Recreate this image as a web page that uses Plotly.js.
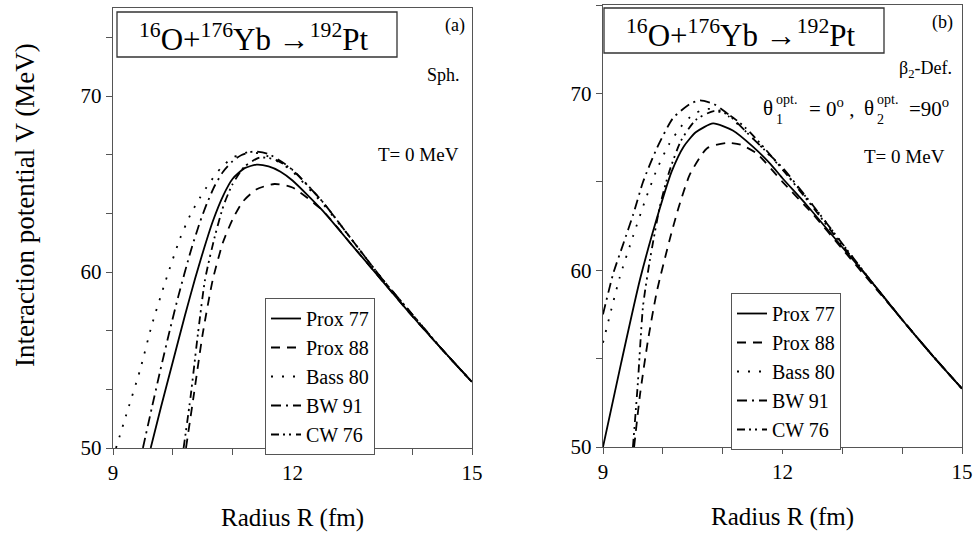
<!DOCTYPE html>
<html>
<head>
<meta charset="utf-8">
<script src="https://cdn.plot.ly/plotly-3.0.1.min.js"></script>
<style>html,body{margin:0;padding:0;background:#fff;}#chart{width:976px;height:535px;}</style>
</head>
<body>
<div id="chart"></div>
<script>
// ---------- Data ----------
const models = ["Prox 77", "Prox 88", "Bass 80", "BW 91", "CW 76"];

// Panel (a): spherical, T = 0 MeV
const R_a_prox77 = [9.63, 9.8, 10.0, 10.2, 10.37, 10.5, 10.67, 10.85, 11.0, 11.2, 11.4, 11.6, 11.8, 12.0, 12.5, 13.0, 13.5, 14.0, 14.5, 15.0];
const V_a_prox77 = [50.0, 52.3, 54.9, 57.5, 59.6, 61.1, 62.9, 64.4, 65.3, 65.9, 66.1, 66.0, 65.7, 65.2, 63.5, 61.5, 59.5, 57.5, 55.6, 53.75];
const R_a_prox88 = [10.22, 10.35, 10.5, 10.67, 10.84, 11.0, 11.17, 11.4, 11.7, 12.0, 12.5, 13.0, 13.5, 14.0, 14.5, 15.0];
const V_a_prox88 = [50.0, 53.0, 56.5, 59.6, 61.7, 63.0, 64.0, 64.7, 65.0, 64.8, 63.5, 61.5, 59.5, 57.5, 55.6, 53.75];
const R_a_bass80 = [9.05, 9.25, 9.45, 9.65, 9.87, 10.12, 10.3, 10.45, 10.6, 10.8, 11.0, 11.25, 11.5, 11.8, 12.0, 12.5, 13.0, 13.5, 14.0, 14.5, 15.0];
const V_a_bass80 = [50.0, 52.2, 54.4, 57.0, 59.4, 61.9, 63.3, 64.2, 65.0, 65.9, 66.5, 66.8, 66.7, 66.2, 65.7, 63.9, 61.8, 59.6, 57.6, 55.6, 53.75];
const R_a_bw91 = [9.5, 9.65, 9.79, 9.95, 10.09, 10.3, 10.45, 10.57, 10.7, 10.84, 11.0, 11.15, 11.35, 11.6, 11.85, 12.0, 12.5, 13.0, 13.5, 14.0, 14.5, 15.0];
const V_a_bw91 = [50.0, 52.3, 54.4, 56.7, 58.6, 61.2, 62.8, 63.9, 64.9, 65.7, 66.3, 66.65, 66.85, 66.7, 66.2, 65.8, 64.0, 61.8, 59.6, 57.6, 55.6, 53.75];
const R_a_cw76 = [10.18, 10.3, 10.42, 10.54, 10.7, 10.85, 11.0, 11.2, 11.45, 11.7, 12.0, 12.5, 13.0, 13.5, 14.0, 14.5, 15.0];
const V_a_cw76 = [50.0, 53.0, 56.5, 59.6, 62.0, 63.8, 65.0, 66.0, 66.5, 66.4, 65.8, 64.0, 61.8, 59.6, 57.6, 55.6, 53.75];

// Panel (b): beta2-deformed, optimum orientations
const R_b_prox77 = [9.0, 9.3, 9.62, 9.95, 10.15, 10.35, 10.55, 10.84, 11.17, 11.5, 11.8, 12.0, 12.4, 13.0, 13.5, 14.0, 14.5, 15.0];
const V_b_prox77 = [50.0, 54.7, 59.5, 63.5, 65.6, 67.0, 67.8, 68.3, 67.9, 67.0, 66.0, 65.2, 63.7, 61.3, 59.3, 57.2, 55.2, 53.3];
const R_b_prox88 = [9.52, 9.62, 9.75, 9.9, 10.12, 10.26, 10.45, 10.74, 11.07, 11.3, 11.57, 12.0, 12.5, 13.0, 13.5, 14.0, 14.5, 15.0];
const V_b_prox88 = [50.0, 53.0, 56.0, 58.8, 61.8, 63.5, 65.4, 66.9, 67.2, 67.1, 66.6, 65.0, 63.2, 61.2, 59.2, 57.2, 55.2, 53.3];
const R_b_bass80 = [9.0, 9.28, 9.5, 9.7, 9.9, 10.1, 10.3, 10.5, 10.7, 10.9, 11.1, 11.4, 11.7, 12.0, 12.5, 13.0, 13.5, 14.0, 14.5, 15.0];
const V_b_bass80 = [55.9, 59.6, 61.9, 63.9, 65.7, 67.1, 68.1, 68.8, 69.1, 69.1, 68.7, 67.8, 66.8, 65.7, 63.7, 61.5, 59.3, 57.2, 55.2, 53.3];
const R_b_bw91 = [9.0, 9.17, 9.34, 9.5, 9.67, 9.9, 10.17, 10.45, 10.62, 10.85, 11.1, 11.4, 11.7, 12.0, 12.5, 13.0, 13.5, 14.0, 14.5, 15.0];
const V_b_bw91 = [57.5, 59.8, 61.5, 63.1, 65.0, 66.9, 68.6, 69.4, 69.6, 69.4, 68.8, 67.8, 66.8, 65.8, 63.7, 61.5, 59.3, 57.2, 55.2, 53.3];
const R_b_cw76 = [9.5, 9.58, 9.67, 9.78, 9.95, 10.1, 10.3, 10.55, 10.85, 11.1, 11.4, 11.7, 12.0, 12.5, 13.0, 13.5, 14.0, 14.5, 15.0];
const V_b_cw76 = [50.0, 53.5, 58.0, 60.5, 63.6, 65.5, 67.3, 68.5, 69.0, 68.8, 68.0, 66.9, 65.7, 63.6, 61.4, 59.3, 57.2, 55.2, 53.3];

// ---------- Styles ----------
const FONT = "'Liberation Serif', 'Times New Roman', Times, serif";
const dashStyles = ["solid", "9px,7px", "2px,9px", "10px,5px,2px,5px", "8px,4px,2px,4px,2px,5px"];

const panelA = [[R_a_prox77, V_a_prox77], [R_a_prox88, V_a_prox88], [R_a_bass80, V_a_bass80], [R_a_bw91, V_a_bw91], [R_a_cw76, V_a_cw76]];
const panelB = [[R_b_prox77, V_b_prox77], [R_b_prox88, V_b_prox88], [R_b_bass80, V_b_bass80], [R_b_bw91, V_b_bw91], [R_b_cw76, V_b_cw76]];

const traces = [];
panelA.forEach((d, i) => traces.push({
  x: d[0], y: d[1], name: models[i], type: "scatter", mode: "lines",
  xaxis: "x", yaxis: "y", legend: "legend",
  line: {color: "#000", width: 1.8, dash: dashStyles[i], shape: "spline", smoothing: 0.6}
}));
panelB.forEach((d, i) => traces.push({
  x: d[0], y: d[1], name: models[i], type: "scatter", mode: "lines",
  xaxis: "x2", yaxis: "y2", legend: "legend2",
  line: {color: "#000", width: 1.8, dash: dashStyles[i], shape: "spline", smoothing: 0.6}
}));

const W = 976, H = 535;
const px = v => v / W;
const py = v => 1 - v / H;

function xax(domain) {
  return {
    domain: domain, range: [9, 15], tick0: 0, dtick: 3,
    ticks: "outside", ticklen: 6, tickwidth: 1, tickcolor: "#555",
    minor: {dtick: 1, tick0: 0, ticks: "outside", ticklen: 6, tickcolor: "#555", showgrid: false},
    showline: true, mirror: true, linecolor: "#555", linewidth: 1.4,
    showgrid: false, zeroline: false, automargin: false,
    tickfont: {family: FONT, size: 21, color: "#000"},
    title: {text: "Radius R (fm)", font: {family: FONT, size: 25, color: "#000"}, standoff: 24}
  };
}
function yax(domain, minorStep, anchor) {
  return {
    domain: domain, range: [50, 75], tick0: 50, dtick: 10, anchor: anchor,
    ticks: "outside", ticklen: 6, tickwidth: 1, tickcolor: "#555",
    minor: {dtick: minorStep, tick0: 50, ticks: "outside", ticklen: 6, tickcolor: "#555", showgrid: false},
    showline: true, mirror: true, linecolor: "#555", linewidth: 1.4,
    showgrid: false, zeroline: false, automargin: false,
    tickfont: {family: FONT, size: 21, color: "#000"}
  };
}

const txt = (text, x, y, size, xanchor) => ({
  text: text, xref: "paper", yref: "paper", x: px(x), y: py(y),
  xanchor: xanchor || "center", yanchor: "middle", showarrow: false,
  font: {family: FONT, size: size, color: "#000"}
});

const reaction = "<sup>16</sup>O+<sup>176</sup>Yb →<sup>192</sup>Pt";

const layout = {
  width: W, height: H,
  margin: {l: 0, r: 0, t: 0, b: 0},
  paper_bgcolor: "#fff", plot_bgcolor: "#fff",
  font: {family: FONT, color: "#000"},
  xaxis: Object.assign(xax([px(113), px(472)]), {anchor: "y"}),
  yaxis: yax([py(448), py(8)], 10 / 3, "x"),
  xaxis2: Object.assign(xax([px(603), px(962)]), {anchor: "y2"}),
  yaxis2: yax([py(447), py(5)], 5, "x2"),
  legend: {
    x: px(265), y: py(298), xanchor: "left", yanchor: "top",
    bgcolor: "#fff", bordercolor: "#555", borderwidth: 1,
    font: {family: FONT, size: 20, color: "#000"}, tracegroupgap: 0, itemwidth: 30
  },
  legend2: {
    x: px(731), y: py(293), xanchor: "left", yanchor: "top",
    bgcolor: "#fff", bordercolor: "#555", borderwidth: 1,
    font: {family: FONT, size: 20, color: "#000"}, tracegroupgap: 0, itemwidth: 30
  },
  shapes: [
    {type: "rect", xref: "paper", yref: "paper", x0: px(117), x1: px(397), y0: py(57), y1: py(12), line: {color: "#333", width: 1.3}, fillcolor: "rgba(0,0,0,0)"},
    {type: "rect", xref: "paper", yref: "paper", x0: px(604), x1: px(884), y0: py(53), y1: py(8), line: {color: "#333", width: 1.3}, fillcolor: "rgba(0,0,0,0)"}
  ],
  annotations: [
    txt(reaction, 254, 38, 31),
    txt(reaction, 741, 34, 31),
    txt("(a)", 455, 25, 18),
    txt("(b)", 942, 22, 18),
    txt("Sph.", 462, 75, 18, "right"),
    txt("T= 0 MeV", 461, 154, 19, "right"),
    txt("β<sub>2</sub>-Def.", 954, 69, 18, "right"),
    txt("T= 0 MeV", 947, 157, 19, "right"),
    // theta_1^opt = 0^o , theta_2^opt = 90^o  (stacked super/subscripts)
    txt("θ", 761, 108, 21, "left"),
    txt("opt.", 774, 99, 14, "left"),
    txt("1", 774, 119, 14, "left"),
    txt("= 0<sup>o</sup> ,", 807, 108, 21, "left"),
    txt("θ", 862, 108, 21, "left"),
    txt("opt.", 875, 99, 14, "left"),
    txt("2", 875, 119, 14, "left"),
    txt("=90<sup>o</sup>", 907, 108, 21, "left"),
    Object.assign(txt("Interaction potential V (MeV)", 25, 205, 27), {textangle: -90})
  ]
};

Plotly.newPlot("chart", traces, layout, {displayModeBar: false});
</script>
</body>
</html>
